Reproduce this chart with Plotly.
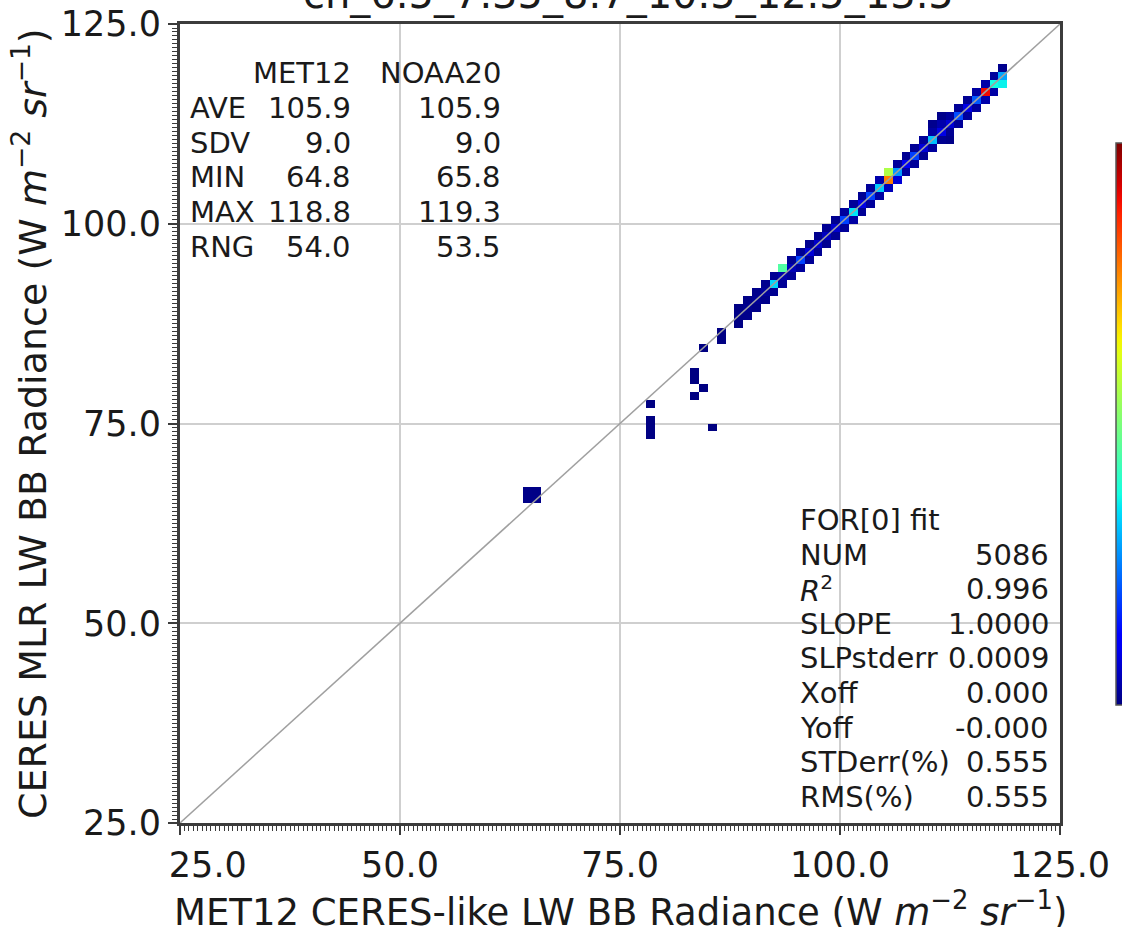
import numpy as np
import plotly.graph_objects as go

# ---------------- data ----------------
title_text = "ch_6.5_7.35_8.7_10.5_12.5_13.5"
x_title = "MET12 CERES-like LW BB Radiance (W <i>m</i><sup>−2</sup> <i>sr</i><sup>−1</sup>)"
y_title = "CERES MLR LW BB Radiance (W <i>m</i><sup>−2</sup> <i>sr</i><sup>−1</sup>)"
tick_vals = [25, 50, 75, 100, 125]
x_tick_text = ["\u00a0\u00a0\u00a0\u00a0\u00a025.0", "50.0", "75.0", "100.0", "125.0"]
y_tick_text = ["25.0", "50.0", "75.0", "100.0", "125.0"]

stat_names = ["AVE", "SDV", "MIN", "MAX", "RNG"]
met12_vals = ["105.9", "9.0", "64.8", "118.8", "54.0"]
noaa20_vals = ["105.9", "9.0", "65.8", "119.3", "53.5"]

fit_header = "FOR[0] fit"
fit_names = ["NUM", "<i>R</i><sup>2</sup>", "SLOPE", "SLPstderr", "Xoff", "Yoff", "STDerr(%)", "RMS(%)"]
fit_vals = ["5086", "0.996", "1.0000", "0.0009", "0.000", "-0.000", "0.555", "0.555"]

# 2D histogram cells (bin centres, 1-unit bins) and counts
cell_x = [64.5, 64.5, 65.5, 65.5,
          78.5, 78.5, 78.5, 78.5,
          83.5, 83.5, 83.5, 84.5, 84.5, 85.5,
          86.5, 86.5,
          88.5, 88.5, 88.5,
          89.5, 89.5, 89.5,
          90.5, 90.5, 90.5,
          91.5, 91.5, 91.5,
          92.5, 92.5, 92.5,
          93.5, 93.5, 93.5,
          94.5, 94.5, 94.5,
          95.5, 95.5, 95.5,
          96.5, 96.5, 96.5,
          97.5, 97.5, 97.5,
          98.5, 98.5, 98.5,
          99.5, 99.5, 99.5,
          100.5, 100.5, 100.5,
          101.5, 101.5, 101.5,
          102.5, 102.5, 102.5,
          103.5, 103.5, 103.5,
          104.5, 104.5, 104.5,
          105.5, 105.5, 105.5,
          106.5, 106.5, 106.5,
          107.5, 107.5, 107.5,
          108.5, 108.5, 108.5,
          109.5, 109.5, 109.5,
          110.5, 110.5, 110.5, 110.5,
          111.5, 111.5, 111.5, 111.5,
          112.5, 112.5, 112.5, 112.5,
          113.5, 113.5, 113.5,
          114.5, 114.5, 114.5,
          115.5, 115.5, 115.5,
          116.5, 116.5, 116.5,
          117.5, 117.5, 117.5,
          118.5, 118.5, 118.5]
cell_y = [65.5, 66.5, 65.5, 66.5,
          73.5, 74.5, 75.5, 77.5,
          78.5, 80.5, 81.5, 79.5, 84.5, 74.5,
          85.5, 86.5,
          87.5, 88.5, 89.5,
          88.5, 89.5, 90.5,
          89.5, 90.5, 91.5,
          90.5, 91.5, 92.5,
          91.5, 92.5, 93.5,
          92.5, 93.5, 94.5,
          93.5, 94.5, 95.5,
          94.5, 95.5, 96.5,
          95.5, 96.5, 97.5,
          96.5, 97.5, 98.5,
          97.5, 98.5, 99.5,
          98.5, 99.5, 100.5,
          99.5, 100.5, 101.5,
          100.5, 101.5, 102.5,
          101.5, 102.5, 103.5,
          102.5, 103.5, 104.5,
          103.5, 104.5, 105.5,
          104.5, 105.5, 106.5,
          105.5, 106.5, 107.5,
          106.5, 107.5, 108.5,
          107.5, 108.5, 109.5,
          108.5, 109.5, 110.5,
          109.5, 110.5, 111.5, 112.5,
          110.5, 111.5, 112.5, 113.5,
          110.5, 111.5, 112.5, 113.5,
          112.5, 113.5, 114.5,
          113.5, 114.5, 115.5,
          114.5, 115.5, 116.5,
          115.5, 116.5, 117.5,
          116.5, 117.5, 118.5,
          117.5, 118.5, 119.5]
cell_n = [6, 6, 6, 5,
          3, 3, 2, 2,
          2, 2, 2, 2, 2, 1,
          3, 3,
          4, 6, 4,
          8, 10, 5,
          6, 14, 8,
          8, 20, 10,
          12, 270, 14,
          16, 30, 360,
          18, 40, 14,
          20, 150, 14,
          16, 60, 12,
          14, 50, 10,
          12, 45, 14,
          16, 55, 12,
          18, 150, 20,
          24, 280, 18,
          16, 70, 14,
          20, 150, 18,
          24, 260, 30,
          40, 620, 450,
          60, 220, 20,
          22, 80, 14,
          18, 150, 16,
          14, 60, 18,
          20, 250, 24, 10,
          12, 70, 30, 8,
          6, 14, 60, 20,
          18, 160, 16,
          20, 70, 14,
          22, 170, 24,
          30, 720, 28,
          26, 300, 20,
          290, 230, 10]
count_max = 800

# ---------------- figure geometry ----------------
W, H = 1122, 927
L, R, T, B = 180, 1060, 24, 823   # plot area in pixels


def px(x):
    return (x - L) / (R - L)


def py(y):
    return (B - y) / (B - T)


# matplotlib "jet" colormap
def jet(v):
    r = np.interp(v, [0, 0.35, 0.66, 0.89, 1], [0, 0, 1, 1, 0.5])
    g = np.interp(v, [0, 0.125, 0.375, 0.64, 0.91, 1], [0, 0, 1, 1, 0, 0])
    b = np.interp(v, [0, 0.11, 0.34, 0.65, 1], [0.5, 1, 1, 0, 0])
    return f"rgb({int(r*255)},{int(g*255)},{int(b*255)})"


jet_scale = [[v, jet(v)] for v in np.linspace(0, 1, 41)]

# grid for heatmap
centers = np.arange(25.5, 125.0, 1.0)
z = np.full((len(centers), len(centers)), np.nan)
for cx, cy, n in zip(cell_x, cell_y, cell_n):
    i = int(round(cy - 25.5))
    j = int(round(cx - 25.5))
    z[i, j] = n

FONT = "DejaVu Sans"
TXT = "#1a1a1a"
SPINE = "#3c3c3c"

fig = go.Figure()
fig.add_trace(go.Heatmap(
    x=centers, y=centers, z=z, zmin=0, zmax=count_max,
    colorscale=jet_scale, hoverongaps=False,
    colorbar=dict(
        x=px(1116), xanchor="left", xref="paper", xpad=0, ypad=0,
        y=py(424), yanchor="middle", len=(705 - 143) / (B - T), lenmode="fraction",
        thickness=16, outlinewidth=1.5, outlinecolor="#555555",
        showticklabels=False, ticks="",
    ),
))
fig.add_trace(go.Scatter(
    x=[25, 125], y=[25, 125], mode="lines",
    line=dict(color="#a0a0a0", width=1.5), showlegend=False, hoverinfo="skip",
))

axis_common = dict(
    range=[25, 125], tickvals=tick_vals,
    showgrid=True, gridcolor="#cfcfcf", gridwidth=1.5,
    showline=True, linecolor=SPINE, linewidth=3, mirror=True,
    ticks="outside", ticklen=9, tickwidth=1.5, tickcolor=SPINE,
    tickfont=dict(family=FONT, size=35, color=TXT),
    minor=dict(dtick=0.5, ticks="outside", ticklen=5, tickwidth=1, tickcolor=SPINE, showgrid=False),
    zeroline=False, fixedrange=True,
)
fig.update_xaxes(ticktext=x_tick_text, **axis_common)
fig.update_yaxes(ticktext=y_tick_text, **axis_common)

ann = []
# title (partially cut by top edge, as in the reference)
ann.append(dict(text=title_text, x=px(628), y=py(20), xref="paper", yref="paper",
                xanchor="center", yanchor="bottom", showarrow=False,
                font=dict(family=FONT, size=40, color=TXT)))
# axis titles
ann.append(dict(text=x_title, x=px(620), y=py(909), xref="paper", yref="paper",
                xanchor="center", yanchor="middle", showarrow=False,
                font=dict(family=FONT, size=37, color=TXT)))
ann.append(dict(text=y_title, x=px(30), y=py(424), xref="paper", yref="paper",
                xanchor="center", yanchor="middle", showarrow=False, textangle=-90,
                font=dict(family=FONT, size=38, color=TXT)))

SF = dict(family=FONT, size=29, color=TXT)
row_h = 34.8
# top-left stats table
ann.append(dict(text="MET12", x=px(353), y=py(73), xref="paper", yref="paper",
                xanchor="right", yanchor="middle", showarrow=False, font=SF))
ann.append(dict(text="NOAA20", x=px(503), y=py(73), xref="paper", yref="paper",
                xanchor="right", yanchor="middle", showarrow=False, font=SF))
for k, (nm, a, b) in enumerate(zip(stat_names, met12_vals, noaa20_vals)):
    yy = 73 + (k + 1) * row_h
    ann.append(dict(text=nm, x=px(188), y=py(yy), xref="paper", yref="paper",
                    xanchor="left", yanchor="middle", showarrow=False, font=SF))
    ann.append(dict(text=a, x=px(353), y=py(yy), xref="paper", yref="paper",
                    xanchor="right", yanchor="middle", showarrow=False, font=SF))
    ann.append(dict(text=b, x=px(503), y=py(yy), xref="paper", yref="paper",
                    xanchor="right", yanchor="middle", showarrow=False, font=SF))

# bottom-right fit stats
ann.append(dict(text=fit_header, x=px(798), y=py(520), xref="paper", yref="paper",
                xanchor="left", yanchor="middle", showarrow=False, font=SF))
for k, (nm, v) in enumerate(zip(fit_names, fit_vals)):
    yy = 520 + (k + 1) * 34.6
    ann.append(dict(text=nm, x=px(798), y=py(yy), xref="paper", yref="paper",
                    xanchor="left", yanchor="middle", showarrow=False, font=SF))
    ann.append(dict(text=v, x=px(1051), y=py(yy), xref="paper", yref="paper",
                    xanchor="right", yanchor="middle", showarrow=False, font=SF))

fig.update_layout(
    width=W, height=H,
    margin=dict(l=L, r=W - R, t=T, b=H - B, autoexpand=False),
    paper_bgcolor="white", plot_bgcolor="white",
    annotations=ann, showlegend=False,
)

fig.write_html("out.html")
